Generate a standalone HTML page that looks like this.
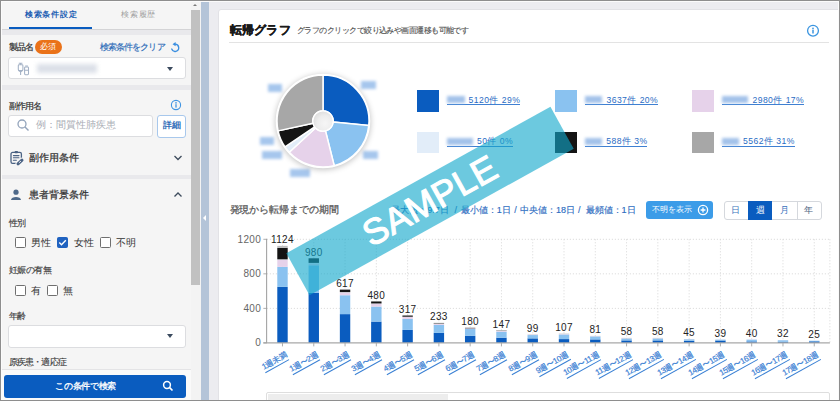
<!DOCTYPE html>
<html lang="ja">
<head>
<meta charset="utf-8">
<style>
*{box-sizing:border-box;margin:0;padding:0}
html,body{width:840px;height:420px;background:#fff;overflow:hidden}
body{font-family:"Liberation Sans",sans-serif;position:relative;color:#444}
.a{position:absolute}
#frame{position:absolute;left:0;top:0;width:840px;height:401px;overflow:hidden;background:#ececf0}
#border{position:absolute;left:0;top:0;width:840px;height:401px;border:1px solid #8e8e8e;box-shadow:inset 1px 1px 0 #fbfbfb,inset -1px 0 0 #fbfbfb;z-index:50}
/* left panel */
#left{position:absolute;left:0;top:0;width:191px;height:400px;background:#f5f5f5}
.tab{position:absolute;top:8px;font-size:8.6px;line-height:11px;white-space:nowrap}
.lbl{position:absolute;font-size:9px;letter-spacing:-0.4px;line-height:10px;color:#3e3e3e;-webkit-text-stroke:0.15px #3e3e3e;white-space:nowrap}
.sel{position:absolute;left:8px;width:178px;height:22px;background:#fff;border:1px solid #dcdde0;border-radius:3px}
.caret{position:absolute;width:0;height:0;border-left:3.5px solid transparent;border-right:3.5px solid transparent;border-top:4px solid #3b4a5e}
.band{position:absolute;left:0;width:191px;background:#e9e9ec}
.cb{position:absolute;width:11px;height:11px;border:1.3px solid #6f6f6f;border-radius:1.5px;background:#fff}
.cbt{position:absolute;font-size:9.5px;line-height:11px;color:#333;white-space:nowrap}

.leg{position:absolute;display:flex;align-items:center;height:10.2px;border-bottom:1.1px solid #3f80d2;font-size:8.6px;line-height:10px;color:#2a6cc4;white-space:nowrap;letter-spacing:0.45px}
.lb{flex:1;height:7px;margin:0 4px 0 0.5px;background:#a3c2ea;filter:blur(1.4px)}
.st{top:204.6px;font-size:9px;line-height:10px;color:#2c6cc1;white-space:nowrap;-webkit-text-stroke:0.15px #2c6cc1}
.seg{position:absolute;top:201px;width:24.3px;height:18.5px;line-height:18.5px;text-align:center;font-size:8.5px}
.bv{font-size:10px;fill:#222;text-anchor:middle;letter-spacing:0.35px}
.yl{font-size:10px;fill:#666;text-anchor:end;letter-spacing:0.3px}
.xl{position:absolute;font-size:8px;letter-spacing:-0.3px;line-height:8px;padding-bottom:0.6px;border-bottom:1px solid #3a80d4;color:#3a80d4;-webkit-text-stroke:0.2px #3a80d4;white-space:nowrap;transform-origin:100% 100%;transform:rotate(-29deg)}
</style>
</head>
<body>
<div id="frame">
  <div id="left">
    <div class="tab" style="left:24.9px;top:8.5px;color:#1d5fb3;font-weight:bold;font-size:8px;letter-spacing:0.75px">検索条件設定</div>
    <div class="tab" style="left:121.2px;top:8.5px;color:#9d9d9d;font-size:8px;letter-spacing:0.75px">検索履歴</div>
    <div class="a" style="left:8.5px;top:26.8px;width:83.5px;height:2.6px;background:#0a5cbf"></div>
    <div class="a" style="left:0;top:29px;width:191px;height:1px;background:#d4d4d6"></div>
    <div class="band" style="top:30px;height:4.5px"></div>

    <div class="lbl" style="left:8.8px;top:42.2px;color:#333;letter-spacing:-1px;-webkit-text-stroke:0.2px #333">製品名</div>
    <div class="a" style="left:34.5px;top:39.5px;width:27px;height:14.5px;border-radius:7px;background:#ea7219;color:#fff;font-size:8px;line-height:14.5px;text-align:center">必須</div>
    <div class="lbl" style="left:99.6px;top:42.2px;color:#2d6cb8;font-size:9px;letter-spacing:-0.85px;-webkit-text-stroke:0.15px #2d6cb8">検索条件をクリア</div>
    <svg class="a" style="left:169px;top:42px" width="12" height="12" viewBox="0 0 12 12"><path d="M6.1 2.2 A3.6 3.6 0 1 1 2.72 7.03" fill="none" stroke="#3b8fe0" stroke-width="1.35" stroke-linecap="round"/><path d="M3.5 2.2 L6.6 0.1 L6.6 4.3 Z" fill="#3b8fe0"/></svg>
    <div class="sel" style="top:57px"></div>
    <svg class="a" style="left:10px;top:58px" width="30" height="22" viewBox="0 0 30 22" fill="none" stroke="#a3b1c5" stroke-width="1.05"><path d="M8.8 5.3 H12.4 M10.6 5.3 V6.8"/><rect x="8.3" y="6.8" width="4.6" height="5.6" rx="0.8"/><path d="M8.3 12.2 L10.6 13.8 L12.9 12.2"/><path d="M10.6 13.8 V17"/><rect x="14.6" y="8.9" width="3.9" height="7.8" rx="0.9"/><path d="M15.2 7.9 H17.9 M14.6 12.2 H18.5"/></svg>
    <div class="a" style="left:37px;top:64px;width:60px;height:9px;background:#cfd5e0;filter:blur(2px);opacity:.75"></div>
    <div class="caret" style="left:167px;top:67px"></div>
    <div class="band" style="top:84.5px;height:5.5px"></div>

    <div class="lbl" style="left:8.6px;top:100.8px;color:#333;letter-spacing:-0.7px;-webkit-text-stroke:0.2px #333">副作用名</div>
    <svg class="a" style="left:169.5px;top:99px" width="12" height="12" viewBox="0 0 12 12"><circle cx="6" cy="6" r="4.6" fill="none" stroke="#3f94e2" stroke-width="1.1"/><circle cx="6" cy="3.9" r="0.8" fill="#3f94e2"/><rect x="5.35" y="5.2" width="1.3" height="3.4" fill="#3f94e2"/></svg>
    <div class="a" style="left:8px;top:114.5px;width:145px;height:22.6px;background:#fff;border:1px solid #dcdde0;border-radius:3px"></div>
    <svg class="a" style="left:16px;top:118px" width="14" height="14" viewBox="0 0 14 14"><circle cx="6" cy="6" r="4" fill="none" stroke="#93a4bb" stroke-width="1.3"/><line x1="9" y1="9" x2="12.5" y2="12.5" stroke="#93a4bb" stroke-width="1.4"/></svg>
    <div class="a" style="left:35.5px;top:119px;font-size:9.8px;line-height:11px;color:#a9adb5;white-space:nowrap">例：間質性肺疾患</div>
    <div class="a" style="left:157px;top:114.5px;width:29px;height:23px;background:#fff;border:1px solid #a8c8ec;border-radius:3px;color:#2d6cb8;font-weight:bold;font-size:8.5px;line-height:19.5px;text-align:center">詳細</div>

    <svg class="a" style="left:9px;top:150px" width="16" height="16" viewBox="0 0 16 16" fill="none" stroke-linecap="round"><rect x="2" y="2.4" width="10.4" height="10.9" rx="1.6" stroke="#4a6283" stroke-width="1.3"/><rect x="5.6" y="1.1" width="3.4" height="2.2" rx="0.8" fill="#4a6283"/><path d="M4.4 5.6 H10 M4.4 7.7 H10 M4.4 10.2 H7.4" stroke="#4a6283" stroke-width="1.05"/><path d="M9 13.8 L13 10.2" stroke="#f5f5f5" stroke-width="5"/><path d="M9 13.8 L13 10.2" stroke="#4a6283" stroke-width="3"/><path d="M10.2 12.6 L11.7 11.3" stroke="#f5f5f5" stroke-width="0.9"/></svg>
    <div class="a" style="left:28.5px;top:151.6px;font-size:10px;line-height:12px;color:#333;-webkit-text-stroke:0.25px #333;white-space:nowrap">副作用条件</div>
    <svg class="a" style="left:173px;top:154px" width="10" height="8" viewBox="0 0 10 8"><path d="M1.5 2 L5 5.5 L8.5 2" fill="none" stroke="#3d4b5c" stroke-width="1.3"/></svg>
    <div class="band" style="top:174.5px;height:4.5px"></div>

    <svg class="a" style="left:10px;top:189px" width="12" height="12" viewBox="0 0 12 12"><circle cx="6" cy="3.2" r="2.6" fill="#4f6a8a"/><path d="M1 11 C1 7 11 7 11 11 Z" fill="#4f6a8a"/></svg>
    <div class="a" style="left:28.5px;top:188.8px;font-size:10px;line-height:12px;color:#333;-webkit-text-stroke:0.25px #333;white-space:nowrap">患者背景条件</div>
    <svg class="a" style="left:173px;top:191px" width="10" height="8" viewBox="0 0 10 8"><path d="M1.5 5.5 L5 2 L8.5 5.5" fill="none" stroke="#3d4b5c" stroke-width="1.3"/></svg>

    <div class="lbl" style="left:8.6px;top:217.5px;letter-spacing:-0.3px">性別</div>
    <div class="cb" style="left:14.5px;top:237px"></div>
    <div class="cbt" style="left:31px;top:237px">男性</div>
    <div class="cb" style="left:56.8px;top:237.3px;background:#1f62c0;border-color:#1f62c0"></div>
    <svg class="a" style="left:56.8px;top:237.3px" width="11" height="11" viewBox="0 0 11 11"><path d="M2.3 5.6 L4.5 7.8 L8.8 3.3" fill="none" stroke="#fff" stroke-width="1.4"/></svg>
    <div class="cbt" style="left:74px;top:237px">女性</div>
    <div class="cb" style="left:99.5px;top:237px"></div>
    <div class="cbt" style="left:116px;top:237px">不明</div>

    <div class="lbl" style="left:8.6px;top:264.6px">妊娠の有無</div>
    <div class="cb" style="left:14.5px;top:284.5px"></div>
    <div class="cbt" style="left:31px;top:284.5px">有</div>
    <div class="cb" style="left:47px;top:284.5px"></div>
    <div class="cbt" style="left:63px;top:284.5px">無</div>

    <div class="lbl" style="left:9px;top:311.2px;letter-spacing:-0.9px">年齢</div>
    <div class="sel" style="top:325px;height:22.6px"></div>
    <div class="caret" style="left:167px;top:334px"></div>

    <div class="lbl" style="left:9px;top:357.2px;letter-spacing:-0.9px">原疾患・適応症</div>
    <div class="a" style="left:0;top:369px;width:191px;height:31px;background:#fafafa;border-top:1px solid #e4e4e6"></div>
    <div class="a" style="left:3.5px;top:375px;width:182px;height:23px;background:#0a5cbf;border-radius:3px"></div>
    <div class="a" style="left:55.3px;top:380.5px;font-size:9px;letter-spacing:-0.3px;line-height:11px;color:#fff;-webkit-text-stroke:0.3px #fff;white-space:nowrap">この条件で検索</div>
    <svg class="a" style="left:162px;top:380px" width="12" height="12" viewBox="0 0 12 12"><circle cx="5" cy="5" r="3.4" fill="none" stroke="#fff" stroke-width="1.5"/><line x1="7.4" y1="7.4" x2="10.5" y2="10.5" stroke="#fff" stroke-width="1.7"/></svg>
  </div>
  <!-- scrollbar -->
  <div class="a" style="left:191px;top:0;width:10px;height:400px;background:#f3f3f3"></div>
  <div class="a" style="left:193.2px;top:3.6px;width:0;height:0;border-left:2.6px solid transparent;border-right:2.6px solid transparent;border-bottom:2.8px solid #7a7a7a"></div>
  <div class="a" style="left:191.1px;top:10.3px;width:8.9px;height:275.2px;background:#c1c1c1"></div>
  <!-- collapse handle -->
  <div class="a" style="left:200.5px;top:0;width:8.3px;height:400px;background:#b4c4d8"></div>
  <div class="a" style="left:202.6px;top:214.8px;width:0;height:0;border-top:3.9px solid transparent;border-bottom:3.9px solid transparent;border-right:3.6px solid #fff"></div>


  <!-- main card -->
  <div id="card" class="a" style="left:218.3px;top:9.4px;width:640px;height:400px;background:#fff;border:1px solid #e2e2e6;border-radius:3px"></div>
  <div class="a" style="left:229.5px;top:23px;font-size:12px;letter-spacing:0.3px;line-height:14px;font-weight:bold;color:#1a1a1a;-webkit-text-stroke:0.35px #1a1a1a;white-space:nowrap">転帰グラフ</div>
  <div class="a" style="left:297px;top:25.6px;font-size:8px;letter-spacing:-0.55px;line-height:10px;color:#555;-webkit-text-stroke:0.15px #555;white-space:nowrap">グラフのクリックで絞り込みや画面遷移も可能です</div>
  <svg class="a" style="left:806px;top:24px" width="14" height="14" viewBox="0 0 14 14"><circle cx="7" cy="6.7" r="5.4" fill="none" stroke="#3b95e0" stroke-width="1.3"/><circle cx="7" cy="4.4" r="0.85" fill="#3b95e0"/><rect x="6.25" y="5.8" width="1.5" height="3.7" fill="#3b95e0"/></svg>
  <div class="a" style="left:229px;top:41.5px;width:600px;height:1.2px;background:#e3e3e3"></div>
  <div class="a" style="left:361px;top:80.5px;width:15px;height:8px;background:#a6c6ed;filter:blur(1.5px)"></div>
<div class="a" style="left:267.5px;top:83.5px;width:14.5px;height:8px;background:#a6c6ed;filter:blur(1.5px)"></div>
<div class="a" style="left:260px;top:137px;width:13.5px;height:8px;background:#a6c6ed;filter:blur(1.5px)"></div>
<div class="a" style="left:261.5px;top:151px;width:20px;height:8px;background:#a6c6ed;filter:blur(1.5px)"></div>
<div class="a" style="left:290px;top:169px;width:20px;height:8px;background:#a6c6ed;filter:blur(1.5px)"></div>
<div class="a" style="left:363px;top:151px;width:15px;height:8px;background:#a6c6ed;filter:blur(1.5px)"></div>
  <div class="a" style="left:417px;top:90px;width:21.8px;height:21.5px;background:#0a5cbf"></div>
<div class="leg" style="left:446.6px;width:73.7px;top:95px"><div class="lb"></div><span>5120件 29%</span></div>
<div class="a" style="left:555px;top:90px;width:21.8px;height:21.5px;background:#8ac2f0"></div>
<div class="leg" style="left:584.6px;width:73.6px;top:95px"><div class="lb"></div><span>3637件 20%</span></div>
<div class="a" style="left:692.3px;top:90px;width:21.8px;height:21.5px;background:#e6d2ea"></div>
<div class="leg" style="left:721.9px;width:82.3px;top:95px"><div class="lb"></div><span>2980件 17%</span></div>
<div class="a" style="left:417px;top:131.6px;width:21.8px;height:21.5px;background:#e2edf9"></div>
<div class="leg" style="left:446.6px;width:66.5px;top:136.6px"><div class="lb"></div><span>50件 0%</span></div>
<div class="a" style="left:555px;top:131.6px;width:21.8px;height:21.5px;background:#141414"></div>
<div class="leg" style="left:584.6px;width:62.9px;top:136.6px"><div class="lb"></div><span>588件 3%</span></div>
<div class="a" style="left:692.3px;top:131.6px;width:21.8px;height:21.5px;background:#a7a7a7"></div>
<div class="leg" style="left:721.9px;width:72.9px;top:136.6px"><div class="lb"></div><span>5562件 31%</span></div>
  <div class="a" style="left:229.5px;top:204px;font-size:10px;letter-spacing:-0.1px;line-height:11px;color:#555;-webkit-text-stroke:0.25px #555;white-space:nowrap">発現から転帰までの期間</div>
  <div class="a st" style="left:391.3px">最大値：9.7日</div>
  <div class="a st" style="left:454.6px">/</div>
  <div class="a st" style="left:460.8px">最小値：1日</div>
  <div class="a st" style="left:514.2px">/</div>
  <div class="a st" style="left:520px">中央値：18日</div>
  <div class="a st" style="left:578px">/</div>
  <div class="a st" style="left:585.6px">最頻値：1日</div>
  <div class="a" style="left:646.3px;top:200.7px;width:67.2px;height:18.5px;background:#3c9ce8;border-radius:3px"></div>
  <div class="a" style="left:652.4px;top:205px;font-size:8.2px;line-height:10px;color:#fff;white-space:nowrap">不明を表示</div>
  <svg class="a" style="left:697px;top:204px" width="12" height="12" viewBox="0 0 12 12"><circle cx="6" cy="6" r="4.6" fill="none" stroke="#fff" stroke-width="1.3"/><path d="M6 3.6 V8.4 M3.6 6 H8.4" stroke="#fff" stroke-width="1.3"/></svg>
  <div class="a" style="left:723.7px;top:201px;width:98px;height:18.5px;background:#fff;border:1px solid #d5d8dd;border-radius:3px"></div>
  <div class="a" style="left:748.1px;top:201px;width:24.3px;height:18.5px;background:#0a5cbf"></div>
  <div class="a" style="left:796.6px;top:201.5px;width:1px;height:17.5px;background:#d5d8dd"></div>
  <div class="a seg" style="left:723.7px;color:#3a74bd">日</div>
  <div class="a seg" style="left:748.1px;color:#fff">週</div>
  <div class="a seg" style="left:772.4px;color:#3a74bd">月</div>
  <div class="a seg" style="left:796.6px;color:#48607e">年</div>
  <div class="a" style="left:266px;top:392px;width:564px;height:12px;border:1.5px solid #dedede;border-radius:2px;background:#fff"></div>
  <div class="a" style="left:267.5px;top:393.5px;width:180px;height:6px;background:#ededed"></div>
  <svg class="a" style="left:0;top:0" width="840" height="401" viewBox="0 0 840 401">
<defs><radialGradient id="hg" cx="0.6" cy="0.62" r="0.62"><stop offset="0" stop-color="#f6f6f6"/><stop offset="0.6" stop-color="#ededed"/><stop offset="1" stop-color="#dedede"/></radialGradient><filter id="sh" x="-30%" y="-30%" width="160%" height="160%"><feGaussianBlur stdDeviation="3.2"/></filter></defs>
<circle cx="323.0" cy="122.2" r="47.2" fill="#000" opacity="0.26" filter="url(#sh)"/>
<circle cx="323.0" cy="121.0" r="47.3" fill="#fff"/>
<path d="M323.00 75.00 A46.0 46.0 0 0 1 368.77 125.57 L333.15 122.01 A10.2 10.2 0 0 0 323.00 110.80 Z" fill="#0a5cbf" stroke="#fff" stroke-width="1.5" stroke-linejoin="round"/>
<path d="M368.77 125.57 A46.0 46.0 0 0 1 334.21 165.61 L325.48 130.89 A10.2 10.2 0 0 0 333.15 122.01 Z" fill="#8ac2f0" stroke="#fff" stroke-width="1.5" stroke-linejoin="round"/>
<path d="M334.21 165.61 A46.0 46.0 0 0 1 289.25 152.25 L315.52 127.93 A10.2 10.2 0 0 0 325.48 130.89 Z" fill="#e6d2ea" stroke="#fff" stroke-width="1.5" stroke-linejoin="round"/>
<path d="M289.25 152.25 A46.0 46.0 0 0 1 285.04 146.99 L314.58 126.76 A10.2 10.2 0 0 0 315.52 127.93 Z" fill="#e2edf9" stroke="#fff" stroke-width="1.5" stroke-linejoin="round"/>
<path d="M285.04 146.99 A46.0 46.0 0 0 1 278.07 130.88 L313.04 123.19 A10.2 10.2 0 0 0 314.58 126.76 Z" fill="#141414" stroke="#fff" stroke-width="1.5" stroke-linejoin="round"/>
<path d="M278.07 130.88 A46.0 46.0 0 0 1 323.00 75.00 L323.00 110.80 A10.2 10.2 0 0 0 313.04 123.19 Z" fill="#a7a7a7" stroke="#fff" stroke-width="1.5" stroke-linejoin="round"/>
<circle cx="323.0" cy="121.0" r="10.2" fill="url(#hg)"/>
<circle cx="323.0" cy="121.0" r="10.2" fill="none" stroke="#fff" stroke-width="1.2"/>
<line x1="266.85" y1="308.37" x2="829.89" y2="308.37" stroke="#d6d6d6" stroke-width="1" stroke-dasharray="1 2"/>
<line x1="266.85" y1="273.83" x2="829.89" y2="273.83" stroke="#d6d6d6" stroke-width="1" stroke-dasharray="1 2"/>
<line x1="266.85" y1="239.30" x2="829.89" y2="239.30" stroke="#d6d6d6" stroke-width="1" stroke-dasharray="1 2"/>
<line x1="282.49" y1="239.30" x2="282.49" y2="342.9" stroke="#d6d6d6" stroke-width="1" stroke-dasharray="1 2"/>
<line x1="313.77" y1="239.30" x2="313.77" y2="342.9" stroke="#d6d6d6" stroke-width="1" stroke-dasharray="1 2"/>
<line x1="345.05" y1="239.30" x2="345.05" y2="342.9" stroke="#d6d6d6" stroke-width="1" stroke-dasharray="1 2"/>
<line x1="376.33" y1="239.30" x2="376.33" y2="342.9" stroke="#d6d6d6" stroke-width="1" stroke-dasharray="1 2"/>
<line x1="407.61" y1="239.30" x2="407.61" y2="342.9" stroke="#d6d6d6" stroke-width="1" stroke-dasharray="1 2"/>
<line x1="438.89" y1="239.30" x2="438.89" y2="342.9" stroke="#d6d6d6" stroke-width="1" stroke-dasharray="1 2"/>
<line x1="470.17" y1="239.30" x2="470.17" y2="342.9" stroke="#d6d6d6" stroke-width="1" stroke-dasharray="1 2"/>
<line x1="501.45" y1="239.30" x2="501.45" y2="342.9" stroke="#d6d6d6" stroke-width="1" stroke-dasharray="1 2"/>
<line x1="532.73" y1="239.30" x2="532.73" y2="342.9" stroke="#d6d6d6" stroke-width="1" stroke-dasharray="1 2"/>
<line x1="564.01" y1="239.30" x2="564.01" y2="342.9" stroke="#d6d6d6" stroke-width="1" stroke-dasharray="1 2"/>
<line x1="595.29" y1="239.30" x2="595.29" y2="342.9" stroke="#d6d6d6" stroke-width="1" stroke-dasharray="1 2"/>
<line x1="626.57" y1="239.30" x2="626.57" y2="342.9" stroke="#d6d6d6" stroke-width="1" stroke-dasharray="1 2"/>
<line x1="657.85" y1="239.30" x2="657.85" y2="342.9" stroke="#d6d6d6" stroke-width="1" stroke-dasharray="1 2"/>
<line x1="689.13" y1="239.30" x2="689.13" y2="342.9" stroke="#d6d6d6" stroke-width="1" stroke-dasharray="1 2"/>
<line x1="720.41" y1="239.30" x2="720.41" y2="342.9" stroke="#d6d6d6" stroke-width="1" stroke-dasharray="1 2"/>
<line x1="751.69" y1="239.30" x2="751.69" y2="342.9" stroke="#d6d6d6" stroke-width="1" stroke-dasharray="1 2"/>
<line x1="782.97" y1="239.30" x2="782.97" y2="342.9" stroke="#d6d6d6" stroke-width="1" stroke-dasharray="1 2"/>
<line x1="814.25" y1="239.30" x2="814.25" y2="342.9" stroke="#d6d6d6" stroke-width="1" stroke-dasharray="1 2"/>
<line x1="829.89" y1="239.30" x2="829.89" y2="342.9" stroke="#d6d6d6" stroke-width="1" stroke-dasharray="1 2"/>
<rect x="277.29" y="286.88" width="10.4" height="56.02" fill="#0a5cbf"/>
<rect x="277.29" y="266.87" width="10.4" height="20.01" fill="#8ac2f0"/>
<rect x="277.29" y="259.87" width="10.4" height="7.00" fill="#e6d2ea"/>
<rect x="277.29" y="259.37" width="10.4" height="0.50" fill="#e2edf9"/>
<rect x="277.29" y="247.86" width="10.4" height="11.50" fill="#141414"/>
<rect x="277.29" y="245.86" width="10.4" height="2.00" fill="#bdbdbd"/>
<text x="282.49" y="243.16" class="bv">1124</text>
<line x1="282.49" y1="342.9" x2="282.49" y2="346.4" stroke="#999" stroke-width="0.8"/>
<rect x="308.57" y="292.90" width="10.4" height="50.00" fill="#0a5cbf"/>
<rect x="308.57" y="265.29" width="10.4" height="27.60" fill="#8ac2f0"/>
<rect x="308.57" y="263.29" width="10.4" height="2.00" fill="#e6d2ea"/>
<rect x="308.57" y="262.89" width="10.4" height="0.40" fill="#e2edf9"/>
<rect x="308.57" y="258.29" width="10.4" height="4.60" fill="#141414"/>
<text x="313.77" y="255.59" class="bv">980</text>
<line x1="313.77" y1="342.9" x2="313.77" y2="346.4" stroke="#999" stroke-width="0.8"/>
<rect x="339.85" y="314.12" width="10.4" height="28.78" fill="#0a5cbf"/>
<rect x="339.85" y="295.23" width="10.4" height="18.89" fill="#8ac2f0"/>
<rect x="339.85" y="292.43" width="10.4" height="2.80" fill="#e6d2ea"/>
<rect x="339.85" y="292.13" width="10.4" height="0.30" fill="#e2edf9"/>
<rect x="339.85" y="289.63" width="10.4" height="2.50" fill="#141414"/>
<text x="345.05" y="286.93" class="bv">617</text>
<line x1="345.05" y1="342.9" x2="345.05" y2="346.4" stroke="#999" stroke-width="0.8"/>
<rect x="371.13" y="321.58" width="10.4" height="21.32" fill="#0a5cbf"/>
<rect x="371.13" y="306.56" width="10.4" height="15.01" fill="#8ac2f0"/>
<rect x="371.13" y="303.66" width="10.4" height="2.90" fill="#e6d2ea"/>
<rect x="371.13" y="303.46" width="10.4" height="0.20" fill="#e2edf9"/>
<rect x="371.13" y="301.46" width="10.4" height="2.00" fill="#141414"/>
<text x="376.33" y="298.76" class="bv">480</text>
<line x1="376.33" y1="342.9" x2="376.33" y2="346.4" stroke="#999" stroke-width="0.8"/>
<rect x="402.41" y="329.92" width="10.4" height="12.98" fill="#0a5cbf"/>
<rect x="402.41" y="318.93" width="10.4" height="10.99" fill="#8ac2f0"/>
<rect x="402.41" y="316.93" width="10.4" height="2.00" fill="#e6d2ea"/>
<rect x="402.41" y="316.73" width="10.4" height="0.20" fill="#e2edf9"/>
<rect x="402.41" y="315.53" width="10.4" height="1.20" fill="#141414"/>
<text x="407.61" y="312.83" class="bv">317</text>
<line x1="407.61" y1="342.9" x2="407.61" y2="346.4" stroke="#999" stroke-width="0.8"/>
<rect x="433.69" y="332.89" width="10.4" height="10.01" fill="#0a5cbf"/>
<rect x="433.69" y="324.89" width="10.4" height="8.01" fill="#8ac2f0"/>
<rect x="433.69" y="323.89" width="10.4" height="1.00" fill="#e6d2ea"/>
<rect x="433.69" y="323.79" width="10.4" height="0.10" fill="#e2edf9"/>
<rect x="433.69" y="323.28" width="10.4" height="0.50" fill="#141414"/>
<rect x="433.69" y="322.78" width="10.4" height="0.50" fill="#bdbdbd"/>
<text x="438.89" y="320.08" class="bv">233</text>
<line x1="438.89" y1="342.9" x2="438.89" y2="346.4" stroke="#999" stroke-width="0.8"/>
<rect x="464.97" y="335.82" width="10.4" height="7.08" fill="#0a5cbf"/>
<rect x="464.97" y="329.03" width="10.4" height="6.79" fill="#8ac2f0"/>
<rect x="464.97" y="328.34" width="10.4" height="0.69" fill="#e6d2ea"/>
<rect x="464.97" y="328.05" width="10.4" height="0.30" fill="#141414"/>
<rect x="464.97" y="327.36" width="10.4" height="0.69" fill="#bdbdbd"/>
<text x="470.17" y="324.66" class="bv">180</text>
<line x1="470.17" y1="342.9" x2="470.17" y2="346.4" stroke="#999" stroke-width="0.8"/>
<rect x="496.25" y="337.70" width="10.4" height="5.20" fill="#0a5cbf"/>
<rect x="496.25" y="331.71" width="10.4" height="6.00" fill="#8ac2f0"/>
<rect x="496.25" y="331.01" width="10.4" height="0.70" fill="#e6d2ea"/>
<rect x="496.25" y="330.71" width="10.4" height="0.30" fill="#141414"/>
<rect x="496.25" y="330.21" width="10.4" height="0.50" fill="#bdbdbd"/>
<text x="501.45" y="327.51" class="bv">147</text>
<line x1="501.45" y1="342.9" x2="501.45" y2="346.4" stroke="#999" stroke-width="0.8"/>
<rect x="527.53" y="338.38" width="10.4" height="4.52" fill="#0a5cbf"/>
<rect x="527.53" y="335.06" width="10.4" height="3.32" fill="#8ac2f0"/>
<rect x="527.53" y="334.65" width="10.4" height="0.40" fill="#e6d2ea"/>
<rect x="527.53" y="334.35" width="10.4" height="0.30" fill="#bdbdbd"/>
<text x="532.73" y="331.65" class="bv">99</text>
<line x1="532.73" y1="342.9" x2="532.73" y2="346.4" stroke="#999" stroke-width="0.8"/>
<rect x="558.81" y="339.08" width="10.4" height="3.82" fill="#0a5cbf"/>
<rect x="558.81" y="334.47" width="10.4" height="4.62" fill="#8ac2f0"/>
<rect x="558.81" y="334.06" width="10.4" height="0.40" fill="#e6d2ea"/>
<rect x="558.81" y="333.66" width="10.4" height="0.40" fill="#bdbdbd"/>
<text x="564.01" y="330.96" class="bv">107</text>
<line x1="564.01" y1="342.9" x2="564.01" y2="346.4" stroke="#999" stroke-width="0.8"/>
<rect x="590.09" y="339.40" width="10.4" height="3.50" fill="#0a5cbf"/>
<rect x="590.09" y="336.41" width="10.4" height="3.00" fill="#8ac2f0"/>
<rect x="590.09" y="336.11" width="10.4" height="0.30" fill="#e6d2ea"/>
<rect x="590.09" y="335.91" width="10.4" height="0.20" fill="#bdbdbd"/>
<text x="595.29" y="333.21" class="bv">81</text>
<line x1="595.29" y1="342.9" x2="595.29" y2="346.4" stroke="#999" stroke-width="0.8"/>
<rect x="621.37" y="340.40" width="10.4" height="2.50" fill="#0a5cbf"/>
<rect x="621.37" y="338.49" width="10.4" height="1.90" fill="#8ac2f0"/>
<rect x="621.37" y="338.19" width="10.4" height="0.30" fill="#e6d2ea"/>
<rect x="621.37" y="337.89" width="10.4" height="0.30" fill="#bdbdbd"/>
<text x="626.57" y="335.19" class="bv">58</text>
<line x1="626.57" y1="342.9" x2="626.57" y2="346.4" stroke="#999" stroke-width="0.8"/>
<rect x="652.65" y="340.40" width="10.4" height="2.50" fill="#0a5cbf"/>
<rect x="652.65" y="338.49" width="10.4" height="1.90" fill="#8ac2f0"/>
<rect x="652.65" y="338.19" width="10.4" height="0.30" fill="#e6d2ea"/>
<rect x="652.65" y="337.89" width="10.4" height="0.30" fill="#bdbdbd"/>
<text x="657.85" y="335.19" class="bv">58</text>
<line x1="657.85" y1="342.9" x2="657.85" y2="346.4" stroke="#999" stroke-width="0.8"/>
<rect x="683.93" y="340.81" width="10.4" height="2.09" fill="#0a5cbf"/>
<rect x="683.93" y="339.31" width="10.4" height="1.49" fill="#8ac2f0"/>
<rect x="683.93" y="339.11" width="10.4" height="0.20" fill="#e6d2ea"/>
<rect x="683.93" y="339.01" width="10.4" height="0.10" fill="#bdbdbd"/>
<text x="689.13" y="336.31" class="bv">45</text>
<line x1="689.13" y1="342.9" x2="689.13" y2="346.4" stroke="#999" stroke-width="0.8"/>
<rect x="715.21" y="340.52" width="10.4" height="2.38" fill="#0a5cbf"/>
<rect x="715.21" y="339.63" width="10.4" height="0.89" fill="#8ac2f0"/>
<rect x="715.21" y="339.53" width="10.4" height="0.10" fill="#e6d2ea"/>
<text x="720.41" y="336.83" class="bv">39</text>
<line x1="720.41" y1="342.9" x2="720.41" y2="346.4" stroke="#999" stroke-width="0.8"/>
<rect x="746.49" y="341.42" width="10.4" height="1.48" fill="#0a5cbf"/>
<rect x="746.49" y="339.64" width="10.4" height="1.78" fill="#8ac2f0"/>
<rect x="746.49" y="339.45" width="10.4" height="0.20" fill="#e6d2ea"/>
<text x="751.69" y="336.75" class="bv">40</text>
<line x1="751.69" y1="342.9" x2="751.69" y2="346.4" stroke="#999" stroke-width="0.8"/>
<rect x="777.77" y="341.81" width="10.4" height="1.09" fill="#0a5cbf"/>
<rect x="777.77" y="340.24" width="10.4" height="1.58" fill="#8ac2f0"/>
<rect x="777.77" y="340.14" width="10.4" height="0.10" fill="#e6d2ea"/>
<text x="782.97" y="337.44" class="bv">32</text>
<line x1="782.97" y1="342.9" x2="782.97" y2="346.4" stroke="#999" stroke-width="0.8"/>
<rect x="809.05" y="341.33" width="10.4" height="1.57" fill="#0a5cbf"/>
<rect x="809.05" y="340.74" width="10.4" height="0.59" fill="#8ac2f0"/>
<text x="814.25" y="338.04" class="bv">25</text>
<line x1="814.25" y1="342.9" x2="814.25" y2="346.4" stroke="#999" stroke-width="0.8"/>
<line x1="266.65000000000003" y1="238.80" x2="266.65000000000003" y2="342.9" stroke="#9a9a9a" stroke-width="1"/>
<line x1="263.35" y1="342.9" x2="829.89" y2="342.9" stroke="#a8a8a8" stroke-width="1.4"/>
<line x1="263.35" y1="342.90" x2="266.85" y2="342.90" stroke="#9a9a9a" stroke-width="0.8"/>
<text x="261" y="346.20" class="yl">0</text>
<line x1="263.35" y1="308.37" x2="266.85" y2="308.37" stroke="#9a9a9a" stroke-width="0.8"/>
<text x="261" y="311.67" class="yl">400</text>
<line x1="263.35" y1="273.83" x2="266.85" y2="273.83" stroke="#9a9a9a" stroke-width="0.8"/>
<text x="261" y="277.13" class="yl">800</text>
<line x1="263.35" y1="239.30" x2="266.85" y2="239.30" stroke="#9a9a9a" stroke-width="0.8"/>
<text x="261" y="242.60" class="yl">1200</text>
</svg>
  <div class="xl" style="right:551.21px;top:350.20px">1週未満</div>
<div class="xl" style="right:519.93px;top:350.20px">1週〜2週</div>
<div class="xl" style="right:488.65px;top:350.20px">2週〜3週</div>
<div class="xl" style="right:457.37px;top:350.20px">3週〜4週</div>
<div class="xl" style="right:426.09px;top:350.20px">4週〜5週</div>
<div class="xl" style="right:394.81px;top:350.20px">5週〜6週</div>
<div class="xl" style="right:363.53px;top:350.20px">6週〜7週</div>
<div class="xl" style="right:332.25px;top:350.20px">7週〜8週</div>
<div class="xl" style="right:300.97px;top:350.20px">8週〜9週</div>
<div class="xl" style="right:269.69px;top:350.20px">9週〜10週</div>
<div class="xl" style="right:238.41px;top:350.20px">10週〜11週</div>
<div class="xl" style="right:207.13px;top:350.20px">11週〜12週</div>
<div class="xl" style="right:175.85px;top:350.20px">12週〜13週</div>
<div class="xl" style="right:144.57px;top:350.20px">13週〜14週</div>
<div class="xl" style="right:113.29px;top:350.20px">14週〜15週</div>
<div class="xl" style="right:82.01px;top:350.20px">15週〜16週</div>
<div class="xl" style="right:50.73px;top:350.20px">16週〜17週</div>
<div class="xl" style="right:19.45px;top:350.20px">17週〜18週</div>
  <!-- SAMPLE banner -->
  <div class="a" style="left:278.9px;top:177.2px;width:302px;height:48px;background:rgba(18,168,203,0.62);transform:rotate(-29deg);transform-origin:50% 50%;z-index:10"></div>
  <div class="a" style="left:278.9px;top:177.2px;width:302px;height:48px;line-height:48px;text-align:center;color:#fff;font-size:36px;-webkit-text-stroke:1.1px #fff;letter-spacing:0.3px;transform:rotate(-29deg);z-index:11">SAMPLE</div>
</div>
<div id="border"></div>
</body>
</html>
